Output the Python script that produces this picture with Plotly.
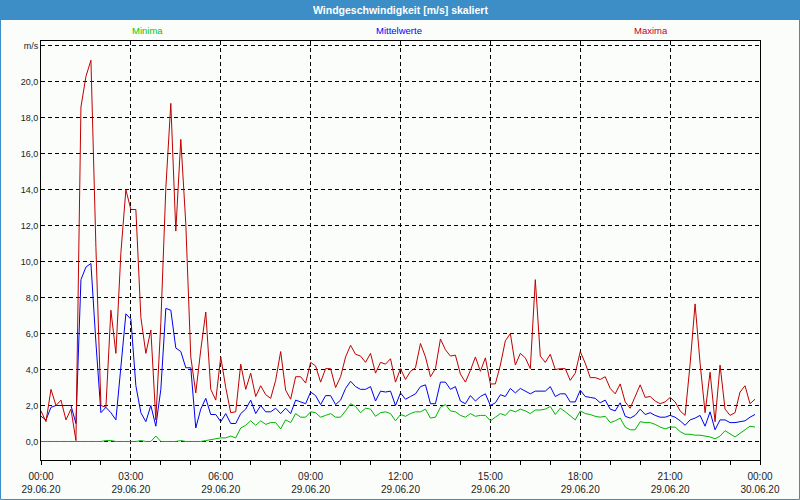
import plotly.graph_objects as go

# 10-minute values, 29.06.20 00:00 .. 23:50
maxima = [1.7, 1.1, 2.9, 2.0, 2.3, 1.2, 1.8, 0.05, 18.6, 20.3, 21.2, 10.8, 2.0, 1.9, 7.3, 4.9,
          10.5, 14.0, 12.9, 12.9, 6.9, 4.9, 6.2, 1.2, 6.6, 14.1, 18.8, 11.7, 16.8, 12.1, 4.7, 2.7,
          5.1, 7.2, 2.9, 2.3, 4.7, 3.0, 1.6, 1.65, 4.3, 2.9, 3.8, 2.5, 3.1, 2.6, 2.4, 3.4,
          5.0, 2.85, 2.35, 3.6, 3.6, 3.25, 4.4, 4.2, 3.3, 4.05, 4.05, 3.0, 3.6, 4.7, 5.35, 4.85,
          4.75, 4.4, 4.9, 3.8, 4.4, 4.3, 4.6, 3.3, 4.05, 3.45, 3.9, 4.1, 5.45, 4.7, 3.6, 4.05,
          5.7, 5.1, 4.75, 4.8, 3.75, 3.3, 3.95, 4.7, 3.9, 4.65, 3.2, 3.2, 4.25, 5.6, 6.0, 4.25,
          4.9, 4.65, 4.05, 9.0, 4.75, 4.4, 4.85, 4.0, 4.05, 4.05, 3.4, 3.8, 5.0, 4.35, 3.55, 3.55,
          3.45, 3.6, 2.95, 2.65, 3.2, 2.2, 1.85, 2.45, 3.15, 2.45, 2.5, 2.25, 2.1, 2.2, 2.45, 2.2,
          1.7, 1.45, 4.3, 7.65, 4.35, 1.6, 3.85, 1.1, 4.25, 1.8, 1.45, 1.6, 2.75, 3.1, 2.1, 2.35]

mittel = [1.4, 1.2, 1.9, 2.0, 2.0, 2.0, 2.0, 1.0, 9.0, 9.7, 9.9, 5.5, 1.6, 1.9, 1.6, 1.2,
          4.1, 7.1, 6.8, 3.1, 1.6, 1.1, 2.0, 0.85, 2.9, 7.4, 7.3, 5.2, 5.0, 4.1, 4.1, 0.75,
          1.8, 2.4, 1.5, 1.5, 1.1, 1.55, 1.0, 1.0, 1.55, 1.8, 2.3, 1.55, 2.0, 1.65, 1.65, 1.85,
          1.55, 1.85, 1.55, 2.3, 2.2, 2.1, 2.75, 2.55, 2.05, 2.55, 2.55, 2.05, 2.3, 2.95, 3.35, 3.05,
          2.9, 2.9, 3.05, 2.25, 2.8, 2.75, 2.8, 2.0, 2.7, 2.35, 2.5, 2.65, 3.05, 3.15, 2.1, 2.1,
          3.3, 3.3, 2.9, 3.05, 2.25, 2.1, 2.55, 2.25, 2.5, 2.65, 2.0, 2.15, 2.6, 2.5, 2.95, 2.7,
          2.95, 2.8, 2.65, 2.8, 2.8, 2.8, 3.05, 2.5, 2.65, 2.65, 2.2, 2.2, 2.85, 2.5, 2.45, 2.4,
          2.15, 2.3, 1.8, 1.7, 2.15, 1.4, 1.3, 1.45, 1.8, 1.5, 1.6, 1.45, 1.35, 1.35, 1.45, 1.35,
          1.15, 0.9, 1.2, 1.3, 1.45, 0.85, 1.65, 0.65, 1.2, 1.2, 1.05, 1.05, 1.1, 1.15, 1.35, 1.5]

minima = [0, 0, 0, 0, 0, 0, 0, 0, 0, 0, 0, 0, 0, 0.05, 0.05, 0,
          0, 0, 0, 0, 0.05, 0, 0, 0.3, 0, 0, 0, 0, 0.05, 0, 0, 0,
          0, 0.05, 0.1, 0.15, 0.2, 0.2, 0.3, 0.2, 0.75, 0.9, 1.15, 0.9, 1.15, 0.95, 1.05, 1.05,
          0.7, 1.2, 1.05, 1.55, 1.35, 1.35, 1.65, 1.6, 1.35, 1.45, 1.55, 1.35, 1.35, 1.7, 2.1, 1.95,
          1.6, 1.85, 1.8, 1.4, 1.6, 1.65, 1.55, 1.15, 1.5, 1.4, 1.55, 1.65, 1.65, 1.8, 1.3, 1.35,
          1.9, 2.05, 1.7, 1.65, 1.45, 1.35, 1.55, 1.4, 1.45, 1.45, 1.15, 1.35, 1.55, 1.45, 1.75, 1.65,
          1.8, 1.7, 1.55, 1.75, 1.75, 1.8, 1.95, 1.5, 1.85, 1.65, 1.45, 1.2, 1.7, 1.55, 1.5, 1.4,
          1.35, 1.4, 1.05, 1.15, 1.3, 0.8, 0.65, 0.65, 1.1, 1.05, 1.05, 0.95, 0.8, 0.7, 0.8, 0.8,
          0.55, 0.4, 0.4, 0.35, 0.35, 0.3, 0.25, 0.15, 0.3, 0.6, 0.4, 0.25, 0.45, 0.65, 0.85, 0.8]

hours = [i / 6 for i in range(len(maxima))]

x_tickvals = [0, 3, 6, 9, 12, 15, 18, 21, 24]
x_ticktext = ["00:00<br>29.06.20", "03:00<br>29.06.20", "06:00<br>29.06.20", "09:00<br>29.06.20",
              "12:00<br>29.06.20", "15:00<br>29.06.20", "18:00<br>29.06.20", "21:00<br>29.06.20",
              "00:00<br>30.06.20"]
y_tickvals = [0, 2, 4, 6, 8, 10, 12, 14, 16, 18, 20, 22]
y_ticktext = ["0,0", "2,0", "4,0", "6,0", "8,0", "10,0", "12,0", "14,0", "16,0", "18,0", "20,0", "m/s"]

GREEN = "#00b400"
BLUE = "#0000f0"
RED = "#c00000"
BG = "#fbfdfb"
FONT = "Liberation Sans"

fig = go.Figure()
fig.add_trace(go.Scatter(x=hours, y=minima, mode="lines", name="Minima",
                         line=dict(color=GREEN, width=1)))
fig.add_trace(go.Scatter(x=hours, y=mittel, mode="lines", name="Mittelwerte",
                         line=dict(color=BLUE, width=1)))
fig.add_trace(go.Scatter(x=hours, y=maxima, mode="lines", name="Maxima",
                         line=dict(color=RED, width=1)))

W, H = 800, 500
ML, MR, MT, MB = 41, 40, 41, 40
PW, PH = W - ML - MR, H - MT - MB


def px(xp):
    return (xp - ML) / PW


def py(yp):
    return 1 - (yp - MT) / PH


shapes = [
    dict(type="rect", xref="paper", yref="paper", x0=px(0), x1=px(W), y0=py(20), y1=py(0),
         fillcolor="#3d8ec6", line=dict(width=0), layer="below"),
    dict(type="rect", xref="paper", yref="paper", x0=px(0.5), x1=px(W - 0.5), y0=py(H - 0.5), y1=py(0),
         fillcolor="rgba(0,0,0,0)", line=dict(color="#3d8ec6", width=1)),
]

annotations = [
    dict(text="<b>Windgeschwindigkeit [m/s] skaliert</b>", xref="paper", yref="paper",
         x=px(400), y=py(10), xanchor="center", yanchor="middle", showarrow=False,
         font=dict(color="white", size=10.5, family=FONT)),
    dict(text="Minima", xref="paper", yref="paper", x=px(147), y=py(31), xanchor="center",
         yanchor="middle", showarrow=False, font=dict(color="#00c800", size=9.5, family=FONT)),
    dict(text="Mittelwerte", xref="paper", yref="paper", x=px(399), y=py(31), xanchor="center",
         yanchor="middle", showarrow=False, font=dict(color="#0000ff", size=9.5, family=FONT)),
    dict(text="Maxima", xref="paper", yref="paper", x=px(651), y=py(31), xanchor="center",
         yanchor="middle", showarrow=False, font=dict(color="#c00020", size=9.5, family=FONT)),
]

fig.update_layout(
    width=W, height=H,
    margin=dict(l=ML, r=MR, t=MT, b=MB, pad=0, autoexpand=False),
    paper_bgcolor=BG, plot_bgcolor=BG,
    showlegend=False,
    shapes=shapes, annotations=annotations,
    font=dict(family=FONT, size=9, color="#222222"),
)
fig.update_xaxes(range=[0, 24], tickmode="array", tickvals=x_tickvals, ticktext=x_ticktext,
                 automargin=False,
                 showgrid=True, gridcolor="black", gridwidth=1, griddash="4px,3px",
                 showline=True, linecolor="black", linewidth=1, mirror=True,
                 ticks="outside", ticklen=4, tickcolor="black", ticklabelstandoff=3,
                 minor=dict(dtick=1, tick0=0, ticks="outside", ticklen=4, tickcolor="black", showgrid=False),
                 zeroline=False, tickfont=dict(size=10, color="#222222"))
fig.update_yaxes(range=[-1.03, 22.27], tickmode="array", tickvals=y_tickvals, ticktext=y_ticktext,
                 automargin=False,
                 showgrid=True, gridcolor="black", gridwidth=1, griddash="4px,3px",
                 showline=True, linecolor="black", linewidth=1, mirror=True,
                 ticks="", zeroline=False, tickfont=dict(size=9, color="#222222"))

fig.write_html("out.html", config={"displayModeBar": False},
               post_script="document.body.style.margin='0';document.body.style.overflow='hidden';")
